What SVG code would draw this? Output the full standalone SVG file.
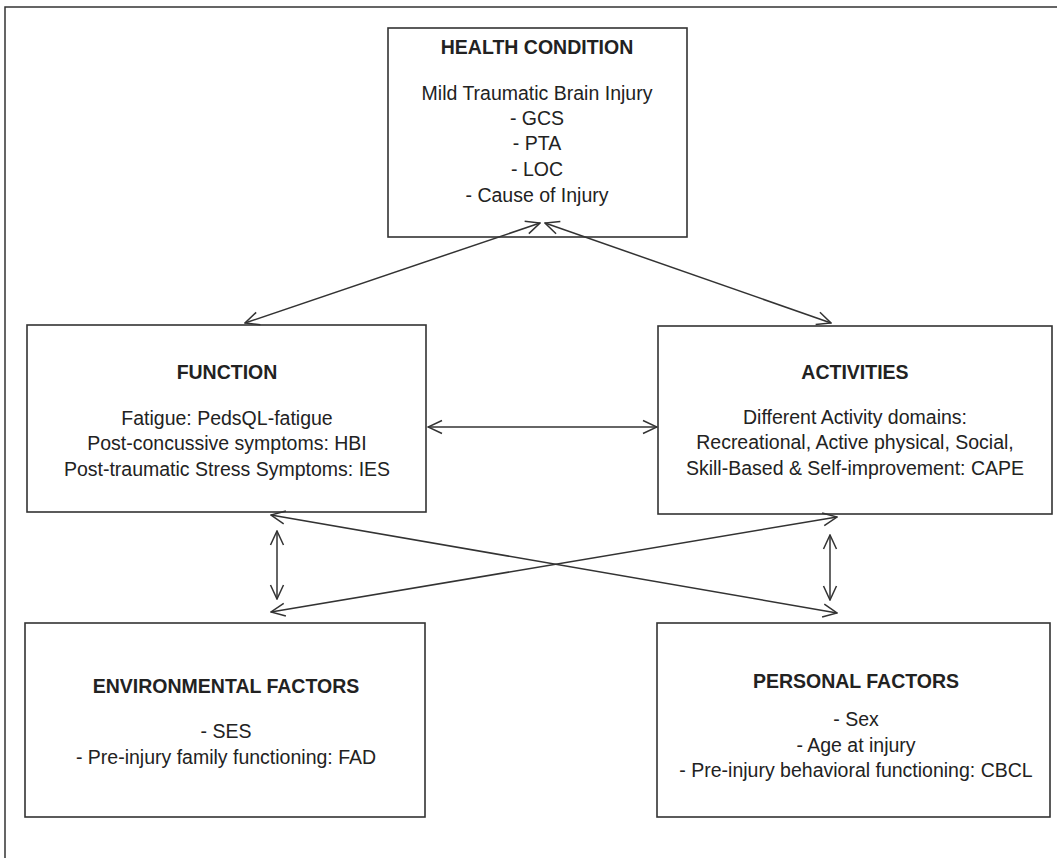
<svg xmlns="http://www.w3.org/2000/svg" width="1057" height="858" viewBox="0 0 1057 858">
<style>
.box{fill:#fff;stroke:#333;stroke-width:1.6}
.t{font-family:"Liberation Sans",Arial,sans-serif;font-size:19.5px;fill:#222;text-anchor:middle}
.h{font-weight:bold;font-size:19.5px}
.c{fill:none;stroke:#333;stroke-width:1.5;marker-start:url(#a);marker-end:url(#a)}
.frame{fill:none;stroke:#333;stroke-width:1.5}
</style>
<defs>
<marker id="a" viewBox="0 0 16 16" refX="15" refY="8" markerWidth="16" markerHeight="16" markerUnits="userSpaceOnUse" orient="auto-start-reverse">
<path d="M1,1.5 L15,8 L1,14.5" fill="none" stroke="#333" stroke-width="1.5"/>
</marker>
</defs>
<rect width="1057" height="858" fill="#fff"/>
<path class="frame" d="M5,858 L5,7 L1057,7"/>
<g id="health">
<rect class="box" x="388" y="28" width="299" height="209"/>
<text class="t h" x="537" y="54">HEALTH CONDITION</text>
<text class="t" x="537" y="100">Mild Traumatic Brain Injury</text>
<text class="t" x="537" y="125">- GCS</text>
<text class="t" x="537" y="150">- PTA</text>
<text class="t" x="537" y="176">- LOC</text>
<text class="t" x="537" y="202">- Cause of Injury</text>
</g>
<g id="function">
<rect class="box" x="27" y="325" width="399" height="187"/>
<text class="t h" x="227" y="379">FUNCTION</text>
<text class="t" x="227" y="425">Fatigue: PedsQL-fatigue</text>
<text class="t" x="227" y="450">Post-concussive symptoms: HBI</text>
<text class="t" x="227" y="476">Post-traumatic Stress Symptoms: IES</text>
</g>
<g id="activities">
<rect class="box" x="658" y="326" width="394" height="188"/>
<text class="t h" x="855" y="379">ACTIVITIES</text>
<text class="t" x="855" y="424">Different Activity domains:</text>
<text class="t" x="855" y="449">Recreational, Active physical, Social,</text>
<text class="t" x="855" y="475">Skill-Based &amp; Self-improvement: CAPE</text>
</g>
<g id="environmental">
<rect class="box" x="25" y="623" width="400" height="194"/>
<text class="t h" x="226" y="693">ENVIRONMENTAL FACTORS</text>
<text class="t" x="226" y="738">- SES</text>
<text class="t" x="226" y="764">- Pre-injury family functioning: FAD</text>
</g>
<g id="personal">
<rect class="box" x="657" y="623" width="393" height="194"/>
<text class="t h" x="856" y="688">PERSONAL FACTORS</text>
<text class="t" x="856" y="726">- Sex</text>
<text class="t" x="856" y="752">- Age at injury</text>
<text class="t" x="856" y="777">- Pre-injury behavioral functioning: CBCL</text>
</g>
<g id="connectors">
<line class="c" x1="245" y1="323" x2="540" y2="223"/>
<line class="c" x1="545" y1="223" x2="831" y2="323"/>
<line class="c" x1="428" y1="427" x2="657" y2="427"/>
<line class="c" x1="277" y1="531" x2="277" y2="599"/>
<line class="c" x1="830" y1="535" x2="830" y2="600"/>
<line class="c" x1="271" y1="515" x2="837" y2="613"/>
<line class="c" x1="837" y1="517" x2="271" y2="612"/>
</g>
</svg>
